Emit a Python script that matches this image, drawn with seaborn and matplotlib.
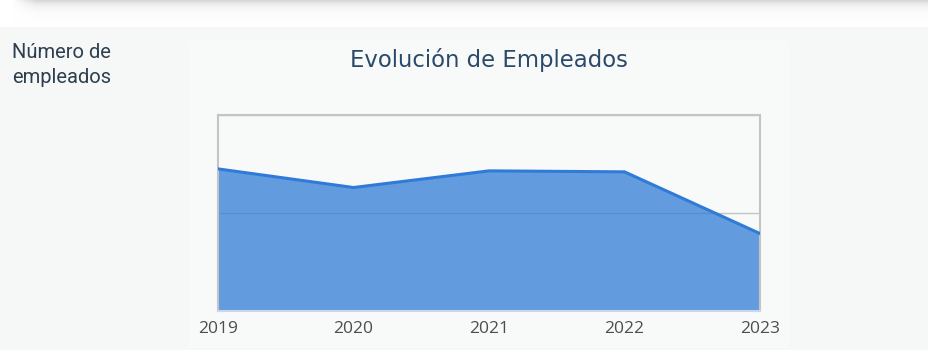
import numpy as np
import pandas as pd
import matplotlib
matplotlib.use("Agg")
import matplotlib.pyplot as plt
import seaborn as sns

# Employee headcount per year
years = [2019, 2020, 2021, 2022, 2023]
empleados = [145, 126, 143, 142, 79]
y_ticks = [0, 100, 200]

df = pd.DataFrame({"anio": years, "empleados": empleados})

sns.set_theme(style="white")
plt.rcParams["font.family"] = ["DejaVu Sans"]

W, H = 929, 350
fig = plt.figure(figsize=(W / 100, H / 100), dpi=100)
fig.patch.set_facecolor("#f6f8f7")

# white band with a soft card shadow along the top edge
band_h = 27
band = fig.add_axes([0, 1 - band_h / H, 1, band_h / H])
yy = np.linspace(0, 1, band_h)[:, None]
xx = np.linspace(0, 1, W)[None, :]
shade = np.exp(-yy * 5.0) * 0.16
edge = np.clip((xx * W - 12) / 25, 0, 1)
val = 1 - shade * edge
img = np.dstack([val, val, val])
band.imshow(img, aspect="auto", extent=[0, 1, 0, 1], origin="upper")
band.axis("off")

# chart panel
panel = fig.add_axes([189 / W, 2 / H, 600 / W, 307 / H])
panel.set_facecolor("#f8f9f9")
panel.set_xticks([]); panel.set_yticks([])
for s in panel.spines.values():
    s.set_visible(False)

line_color = "#2f7bd7"
ax = fig.add_axes([218 / W, 1 - 311 / H, (760 - 218) / W, (311 - 115) / H])
ax.set_facecolor("#f8f9f9")
ax.set_axisbelow(True)
ax.yaxis.grid(True, color="#c4c4c4", lw=1, zorder=0)
ax.fill_between(df["anio"], 0, df["empleados"], color=line_color, alpha=0.74,
                lw=0, zorder=1)
sns.lineplot(data=df, x="anio", y="empleados", ax=ax, color=line_color, lw=2.2, zorder=3)
ax.set_xlim(years[0], years[-1])
ax.set_ylim(y_ticks[0], y_ticks[-1])
ax.set_yticks(y_ticks)
ax.set_yticklabels([])
ax.tick_params(axis="y", length=0)
ax.set_xticks(years)
ax.set_xticklabels([str(y) for y in years], color="#4d4d4d", fontsize=12.5,
                   family="Open Sans")
ax.tick_params(axis="x", length=5, width=1, color="#ccd6eb", pad=2)
ax.set_xlabel(""); ax.set_ylabel("")
for side in ["top", "left", "right"]:
    ax.spines[side].set_color("#c4c4c4")
    ax.spines[side].set_linewidth(1.5)
ax.spines["bottom"].set_color("#ccd6eb")
ax.spines["bottom"].set_linewidth(1.5)
ax.spines["bottom"].set_zorder(4)

fig.text(489 / W, 1 - 60 / H, "Evolución de Empleados", ha="center", va="center",
         fontsize=16.4, color="#2b4a6a")
fig.text(12 / W, 1 - 43 / H, "Número de\nempleados", ha="left", va="top",
         fontsize=14.5, color="#2d3e4f", family="Roboto", linespacing=1.4)

fig.savefig("out.png", dpi=100, facecolor=fig.get_facecolor())
